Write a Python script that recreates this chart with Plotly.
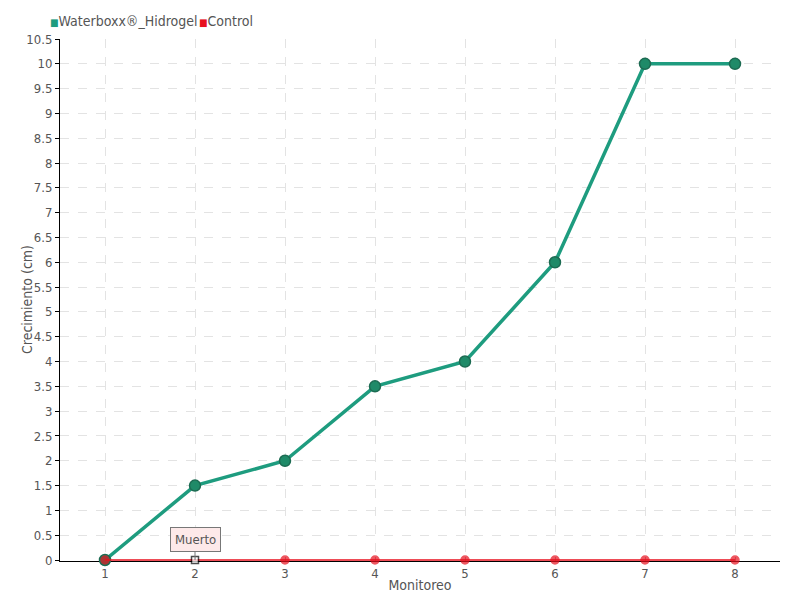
import plotly.graph_objects as go

categories = ["1", "2", "3", "4", "5", "6", "7", "8"]
waterboxx = [0, 1.5, 2, 3.5, 4, 6, 10, 10]
control = [0, 0, 0, 0, 0, 0, 0, 0]
series_names = ["Waterboxx®_Hidrogel", "Control"]
series_colors = ["#1e9c7f", "#e8101e"]
y_ticks = [i * 0.5 for i in range(22)]
y_labels = ["0", "0.5", "1", "1.5", "2", "2.5", "3", "3.5", "4", "4.5", "5", "5.5",
            "6", "6.5", "7", "7.5", "8", "8.5", "9", "9.5", "10", "10.5"]

FONT = "DejaVu Sans Condensed, Liberation Sans Narrow, sans-serif"
x_idx = list(range(1, len(categories) + 1))

fig = go.Figure()
fig.add_trace(go.Scatter(
    x=x_idx, y=waterboxx, mode="lines+markers", name=series_names[0],
    line=dict(color=series_colors[0], width=3.5), showlegend=False, cliponaxis=False,
    marker=dict(size=11, color="#1f8a68", line=dict(color="#1c6b52", width=1.5)),
))
ctrl_sym = ["circle"] * len(control)
ctrl_col = [series_colors[1]] * len(control)
ctrl_size = [8] * len(control)
ctrl_line = [series_colors[1]] * len(control)
ctrl_sym[1] = "square"
ctrl_col[1] = "white"
ctrl_size[1] = 7
ctrl_line[1] = "black"
fig.add_trace(go.Scatter(
    x=x_idx, y=control, mode="lines+markers", name=series_names[1], showlegend=False,
    line=dict(color=series_colors[1], width=1.5), cliponaxis=False,
    marker=dict(size=ctrl_size, color=ctrl_col, symbol=ctrl_sym,
                line=dict(color=ctrl_line, width=1.5)),
))

# legend drawn as text annotations with square swatches
leg_x = [48, 197]
for name, col, lx in zip(series_names, series_colors, leg_x):
    fig.add_annotation(
        xref="paper", yref="paper", x=(lx - 60) / 720, y=1 + (39 - 21) / 521,
        xanchor="left", yanchor="middle", showarrow=False,
        text=f"<span style='color:{col};font-size:10px'>■</span>{name}",
        font=dict(family=FONT, size=14, color="#555"),
    )

# y axis title
fig.add_annotation(
    xref="paper", yref="paper", x=(27 - 60) / 720, y=0.5, textangle=-90,
    xanchor="center", yanchor="middle", showarrow=False,
    text="Crecimiento (cm)", font=dict(family=FONT, size=14, color="#555"),
)

fig.add_annotation(
    x=2, y=0, text="Muerto", showarrow=True, arrowhead=0, arrowcolor="#777",
    ax=0, ay=-21, bgcolor="#fde9e9", bordercolor="#777", borderwidth=1, borderpad=4,
    font=dict(family=FONT, size=13, color="#555"),
)

fig.update_layout(
    width=800, height=600,
    paper_bgcolor="white", plot_bgcolor="white",
    margin=dict(l=60, r=20, t=39, b=39, autoexpand=False),
    font=dict(family=FONT, size=13, color="#555"),
    showlegend=False,
    xaxis=dict(
        range=[0.5, 8.5], tickmode="array", tickvals=x_idx, ticktext=categories,
        showline=True, linecolor="black", linewidth=1, automargin=False,
        showgrid=True, gridcolor="#e3e3e3", griddash="dash",
        ticks="inside", ticklen=4, tickcolor="#aaa", layer="below traces",
        zeroline=False,
        title=dict(text="Monitoreo", standoff=0, font=dict(size=14, color="#555")),
    ),
    yaxis=dict(
        range=[-0.02, 10.5], tickmode="array", tickvals=y_ticks, ticktext=y_labels,
        showline=True, linecolor="black", linewidth=1, automargin=False,
        showgrid=True, gridcolor="#e3e3e3", griddash="dash",
        ticks="outside", ticklen=4, tickcolor="black", layer="below traces",
        zeroline=False,
    ),
)
fig.write_html("out.html", config={"displayModeBar": False},
               post_script="document.body.style.margin='0';")
